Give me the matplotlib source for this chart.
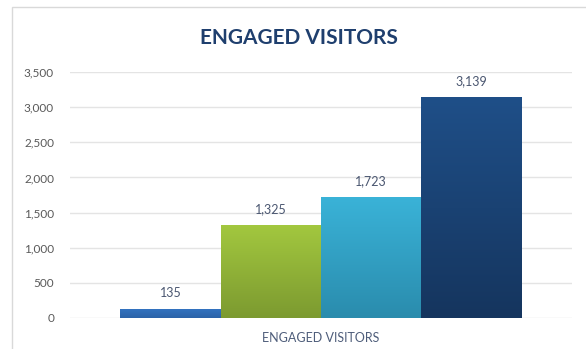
import numpy as np
import matplotlib
matplotlib.use("Agg")
import matplotlib.pyplot as plt
from matplotlib.colors import LinearSegmentedColormap
from matplotlib.patches import Rectangle

title = "ENGAGED VISITORS"
category = "ENGAGED VISITORS"
values = [135, 1325, 1723, 3139]
value_labels = ["135", "1,325", "1,723", "3,139"]
y_ticks = [0, 500, 1000, 1500, 2000, 2500, 3000, 3500]
y_tick_labels = ["0", "500", "1,000", "1,500", "2,000", "2,500", "3,000", "3,500"]
# (top colour, bottom colour) for each bar's vertical gradient
bar_gradients = [("#3474C2", "#2B63A8"),
                 ("#A3C83F", "#7C9A30"),
                 ("#3AB3D8", "#2A8CAD"),
                 ("#1F4F88", "#15355E")]

plt.rcParams['font.family'] = ['Lato', 'DejaVu Sans']

W, H = 586, 349
fig = plt.figure(figsize=(W / 100, H / 100), dpi=100)
fig.patch.set_facecolor("white")

# chart-area frame
fig.add_artist(Rectangle((12 / W, -0.05), 1.2, (H - 7) / H + 0.05,
                         transform=fig.transFigure, fill=False,
                         edgecolor="#D9D9D9", linewidth=1.0))

x0, x1 = 70, 572
y_top, y_bot = 72, 318
ax = fig.add_axes([x0 / W, (H - y_bot) / H, (x1 - x0) / W, (y_bot - y_top) / H])
ax.set_facecolor("none")

n = len(values)
width = 0.2
positions = (np.arange(n) - (n - 1) / 2) * width
bars = ax.bar(positions, values, width=width, color="none", edgecolor="none", zorder=3)

for rect, (top_c, bot_c) in zip(bars, bar_gradients):
    cmap = LinearSegmentedColormap.from_list("g", [bot_c, top_c])
    grad = np.linspace(0, 1, 256).reshape(-1, 1)
    bx, by = rect.get_x(), rect.get_y()
    bw, bh = rect.get_width(), rect.get_height()
    im = ax.imshow(grad, cmap=cmap, origin="lower", aspect="auto",
                   extent=[bx, bx + bw, by, by + bh], zorder=3)
    im.set_clip_path(rect)

for pos, v, lab in zip(positions, values, value_labels):
    ax.annotate(lab, (pos, v), xytext=(0, 7), textcoords="offset points",
                ha="center", va="bottom", fontsize=9, color="#4A5670")

ax.set_xlim(-0.5, 0.5)
ax.set_ylim(0, 3500)
ax.set_yticks(y_ticks)
ax.set_yticklabels(y_tick_labels)
ax.set_xticks([0])
ax.set_xticklabels([category])
ax.tick_params(axis="y", length=0, pad=11.5, labelsize=8.5, labelcolor="#595959")
ax.tick_params(axis="x", length=0, pad=10, labelsize=9, labelcolor="#4E5D7A")
for s in ax.spines.values():
    s.set_visible(False)
ax.grid(axis="y", color="#E4E4E4", linewidth=1.0, zorder=0)
ax.set_axisbelow(True)

fig.text(299 / W, (H - 38) / H, title, ha="center", va="center",
         fontsize=15, fontweight="bold", color="#1F3F6E")

fig.savefig("out.png", dpi=100, facecolor="white")
